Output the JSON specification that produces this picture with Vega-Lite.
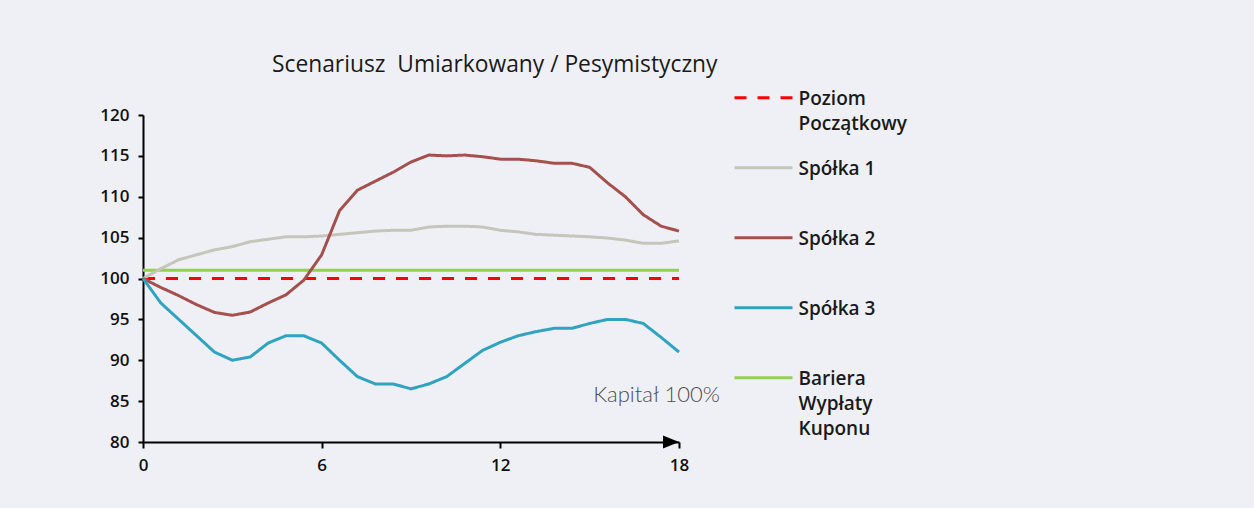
{
  "$schema": "https://vega.github.io/schema/vega-lite/v6.json",
  "width": 536,
  "height": 327,
  "autosize": {"type": "none"},
  "padding": {"left": 143, "top": 115, "right": 575, "bottom": 66},
  "background": "#eff0f6",
  "title": {"text": "Scenariusz\u00a0 Umiarkowany / Pesymistyczny", "anchor": "start", "frame": "group", "dx": 129, "offset": 18, "font": "Open Sans", "fontSize": 22.8, "fontWeight": "normal", "color": "#1a1a1a"},
  "datasets": {
    "series": [
      {"t": 0, "s": "Poziom Początkowy", "v": 100},
      {"t": 18, "s": "Poziom Początkowy", "v": 100},
      {"t": 0, "s": "Bariera Wypłaty Kuponu", "v": 101},
      {"t": 18, "s": "Bariera Wypłaty Kuponu", "v": 101},
      {"t": 0, "s": "Spółka 1", "v": 100},
      {"t": 0.6, "s": "Spółka 1", "v": 101.2},
      {"t": 1.2, "s": "Spółka 1", "v": 102.3},
      {"t": 1.8, "s": "Spółka 1", "v": 102.9},
      {"t": 2.4, "s": "Spółka 1", "v": 103.5},
      {"t": 3.0, "s": "Spółka 1", "v": 103.9},
      {"t": 3.6, "s": "Spółka 1", "v": 104.5},
      {"t": 4.2, "s": "Spółka 1", "v": 104.8},
      {"t": 4.8, "s": "Spółka 1", "v": 105.1},
      {"t": 5.4, "s": "Spółka 1", "v": 105.1},
      {"t": 6.0, "s": "Spółka 1", "v": 105.2},
      {"t": 6.6, "s": "Spółka 1", "v": 105.4},
      {"t": 7.2, "s": "Spółka 1", "v": 105.6},
      {"t": 7.8, "s": "Spółka 1", "v": 105.8},
      {"t": 8.4, "s": "Spółka 1", "v": 105.9},
      {"t": 9.0, "s": "Spółka 1", "v": 105.9},
      {"t": 9.6, "s": "Spółka 1", "v": 106.3},
      {"t": 10.2, "s": "Spółka 1", "v": 106.4},
      {"t": 10.8, "s": "Spółka 1", "v": 106.4},
      {"t": 11.4, "s": "Spółka 1", "v": 106.3},
      {"t": 12.0, "s": "Spółka 1", "v": 105.9},
      {"t": 12.6, "s": "Spółka 1", "v": 105.7},
      {"t": 13.2, "s": "Spółka 1", "v": 105.4},
      {"t": 13.8, "s": "Spółka 1", "v": 105.3},
      {"t": 14.4, "s": "Spółka 1", "v": 105.2},
      {"t": 15.0, "s": "Spółka 1", "v": 105.1},
      {"t": 15.6, "s": "Spółka 1", "v": 104.95},
      {"t": 16.2, "s": "Spółka 1", "v": 104.7},
      {"t": 16.8, "s": "Spółka 1", "v": 104.3},
      {"t": 17.4, "s": "Spółka 1", "v": 104.3},
      {"t": 18.0, "s": "Spółka 1", "v": 104.6},
      {"t": 0, "s": "Spółka 2", "v": 100},
      {"t": 0.6, "s": "Spółka 2", "v": 98.9},
      {"t": 1.2, "s": "Spółka 2", "v": 97.9},
      {"t": 1.8, "s": "Spółka 2", "v": 96.8},
      {"t": 2.4, "s": "Spółka 2", "v": 95.85},
      {"t": 3.0, "s": "Spółka 2", "v": 95.5},
      {"t": 3.6, "s": "Spółka 2", "v": 95.9},
      {"t": 4.2, "s": "Spółka 2", "v": 97.0},
      {"t": 4.8, "s": "Spółka 2", "v": 98.0},
      {"t": 5.4, "s": "Spółka 2", "v": 99.8},
      {"t": 6.0, "s": "Spółka 2", "v": 102.9},
      {"t": 6.6, "s": "Spółka 2", "v": 108.3},
      {"t": 7.2, "s": "Spółka 2", "v": 110.8},
      {"t": 7.8, "s": "Spółka 2", "v": 111.9},
      {"t": 8.4, "s": "Spółka 2", "v": 113.0},
      {"t": 9.0, "s": "Spółka 2", "v": 114.25},
      {"t": 9.6, "s": "Spółka 2", "v": 115.1},
      {"t": 10.2, "s": "Spółka 2", "v": 115.0},
      {"t": 10.8, "s": "Spółka 2", "v": 115.1},
      {"t": 11.4, "s": "Spółka 2", "v": 114.9},
      {"t": 12.0, "s": "Spółka 2", "v": 114.6},
      {"t": 12.6, "s": "Spółka 2", "v": 114.6},
      {"t": 13.2, "s": "Spółka 2", "v": 114.4},
      {"t": 13.8, "s": "Spółka 2", "v": 114.1},
      {"t": 14.4, "s": "Spółka 2", "v": 114.1},
      {"t": 15.0, "s": "Spółka 2", "v": 113.6},
      {"t": 15.6, "s": "Spółka 2", "v": 111.7},
      {"t": 16.2, "s": "Spółka 2", "v": 110.0},
      {"t": 16.8, "s": "Spółka 2", "v": 107.8},
      {"t": 17.4, "s": "Spółka 2", "v": 106.4},
      {"t": 18.0, "s": "Spółka 2", "v": 105.8},
      {"t": 0, "s": "Spółka 3", "v": 100},
      {"t": 0.6, "s": "Spółka 3", "v": 97.0},
      {"t": 1.2, "s": "Spółka 3", "v": 95.0},
      {"t": 1.8, "s": "Spółka 3", "v": 93.0},
      {"t": 2.4, "s": "Spółka 3", "v": 91.0},
      {"t": 3.0, "s": "Spółka 3", "v": 90.0},
      {"t": 3.6, "s": "Spółka 3", "v": 90.4},
      {"t": 4.2, "s": "Spółka 3", "v": 92.1},
      {"t": 4.8, "s": "Spółka 3", "v": 93.0},
      {"t": 5.4, "s": "Spółka 3", "v": 93.0},
      {"t": 6.0, "s": "Spółka 3", "v": 92.1},
      {"t": 6.6, "s": "Spółka 3", "v": 90.0},
      {"t": 7.2, "s": "Spółka 3", "v": 88.0},
      {"t": 7.8, "s": "Spółka 3", "v": 87.1},
      {"t": 8.4, "s": "Spółka 3", "v": 87.1},
      {"t": 9.0, "s": "Spółka 3", "v": 86.5},
      {"t": 9.6, "s": "Spółka 3", "v": 87.1},
      {"t": 10.2, "s": "Spółka 3", "v": 88.0},
      {"t": 10.8, "s": "Spółka 3", "v": 89.6},
      {"t": 11.4, "s": "Spółka 3", "v": 91.2},
      {"t": 12.0, "s": "Spółka 3", "v": 92.2},
      {"t": 12.6, "s": "Spółka 3", "v": 93.0},
      {"t": 13.2, "s": "Spółka 3", "v": 93.5},
      {"t": 13.8, "s": "Spółka 3", "v": 93.9},
      {"t": 14.4, "s": "Spółka 3", "v": 93.9},
      {"t": 15.0, "s": "Spółka 3", "v": 94.5},
      {"t": 15.6, "s": "Spółka 3", "v": 95.0},
      {"t": 16.2, "s": "Spółka 3", "v": 95.0},
      {"t": 16.8, "s": "Spółka 3", "v": 94.5},
      {"t": 17.4, "s": "Spółka 3", "v": 92.8},
      {"t": 18.0, "s": "Spółka 3", "v": 91.0}
    ]
  },
  "layer": [
    {
      "data": {"name": "series"},
      "mark": {"type": "line", "strokeWidth": 3},
      "encoding": {
        "x": {
          "field": "t", "type": "quantitative",
          "scale": {"domain": [0, 18], "nice": false, "zero": false},
          "axis": {"values": [0, 6, 12, 18], "title": null, "grid": false, "domainColor": "#000", "domainWidth": 2, "tickColor": "#000", "tickWidth": 2, "tickSize": 6, "labelPadding": 9, "labelFont": "Open Sans", "labelFontSize": 17, "labelFontWeight": 600, "labelColor": "#111", "labelFlush": false, "labelOverlap": false}
        },
        "y": {
          "field": "v", "type": "quantitative",
          "scale": {"domain": [80, 120], "nice": false, "zero": false},
          "axis": {"values": [80, 85, 90, 95, 100, 105, 110, 115, 120], "title": null, "grid": false, "domainColor": "#000", "domainWidth": 2, "tickColor": "#000", "tickWidth": 2, "tickSize": 5, "labelPadding": 9, "labelFont": "Open Sans", "labelFontSize": 17, "labelFontWeight": 600, "labelColor": "#111", "labelFlush": false, "labelOverlap": false}
        },
        "color": {
          "field": "s", "type": "nominal",
          "scale": {"domain": ["Poziom Początkowy", "Spółka 1", "Spółka 2", "Spółka 3", "Bariera Wypłaty Kuponu"], "range": ["#ff0000", "#c5c5ba", "#a4514d", "#2fa3bf", "#92d050"]},
          "legend": {"orient": "none", "legendX": 611, "legendY": -20, "title": null, "padding": 0, "direction": "vertical", "columns": 1, "gridAlign": "all", "rowPadding": 0, "symbolType": "M-14.5,-3.4L14.5,-3.4", "symbolSize": 16, "symbolStrokeWidth": 3, "labelOffset": 25.5, "labelBaseline": "alphabetic", "labelFont": "Open Sans", "labelFontSize": 19, "labelFontWeight": 600, "labelColor": "#1a1a1a", "labelLimit": 300,
            "labelExpr": "datum.label == 'Poziom Początkowy' ? ['Poziom', 'Początkowy'] : datum.label == 'Bariera Wypłaty Kuponu' ? ['Bariera', 'Wypłaty', 'Kuponu'] : datum.label"}
        },
        "strokeDash": {
          "field": "s", "type": "nominal",
          "scale": {"domain": ["Poziom Początkowy", "Spółka 1", "Spółka 2", "Spółka 3", "Bariera Wypłaty Kuponu"], "range": [[12, 11], [1, 0], [1, 0], [1, 0], [1, 0]]},
          "legend": {"orient": "none", "legendX": 611, "legendY": -20, "title": null, "padding": 0, "direction": "vertical", "columns": 1, "gridAlign": "all", "rowPadding": 0, "symbolType": "M-14.5,-3.4L14.5,-3.4", "symbolSize": 16, "symbolStrokeWidth": 3, "labelOffset": 25.5, "labelBaseline": "alphabetic", "labelFont": "Open Sans", "labelFontSize": 19, "labelFontWeight": 600, "labelColor": "#1a1a1a", "labelLimit": 300,
            "labelExpr": "datum.label == 'Poziom Początkowy' ? ['Poziom', 'Początkowy'] : datum.label == 'Bariera Wypłaty Kuponu' ? ['Bariera', 'Wypłaty', 'Kuponu'] : datum.label"}
        }
      }
    },
    {
      "data": {"values": [{"t": 18, "v": 85.8, "label": "Kapitał 100%"}]},
      "mark": {"type": "text", "align": "right", "baseline": "middle", "dx": 41, "font": "Lato", "fontWeight": 300, "fontSize": 22, "color": "#4d4d4d"},
      "encoding": {
        "x": {"field": "t", "type": "quantitative"},
        "y": {"field": "v", "type": "quantitative"},
        "text": {"field": "label"}
      }
    },
    {
      "data": {"values": [{"t": 18, "v": 80}]},
      "mark": {"type": "point", "shape": "M-1,-0.8L1,0L-1,0.8Z", "size": 256, "filled": true, "color": "#000", "opacity": 1, "strokeWidth": 0, "xOffset": -8},
      "encoding": {
        "x": {"field": "t", "type": "quantitative"},
        "y": {"field": "v", "type": "quantitative"}
      }
    }
  ],
  "config": {
    "view": {"stroke": null},
    "style": {"guide-label": {"lineHeight": 25}}
  }
}
